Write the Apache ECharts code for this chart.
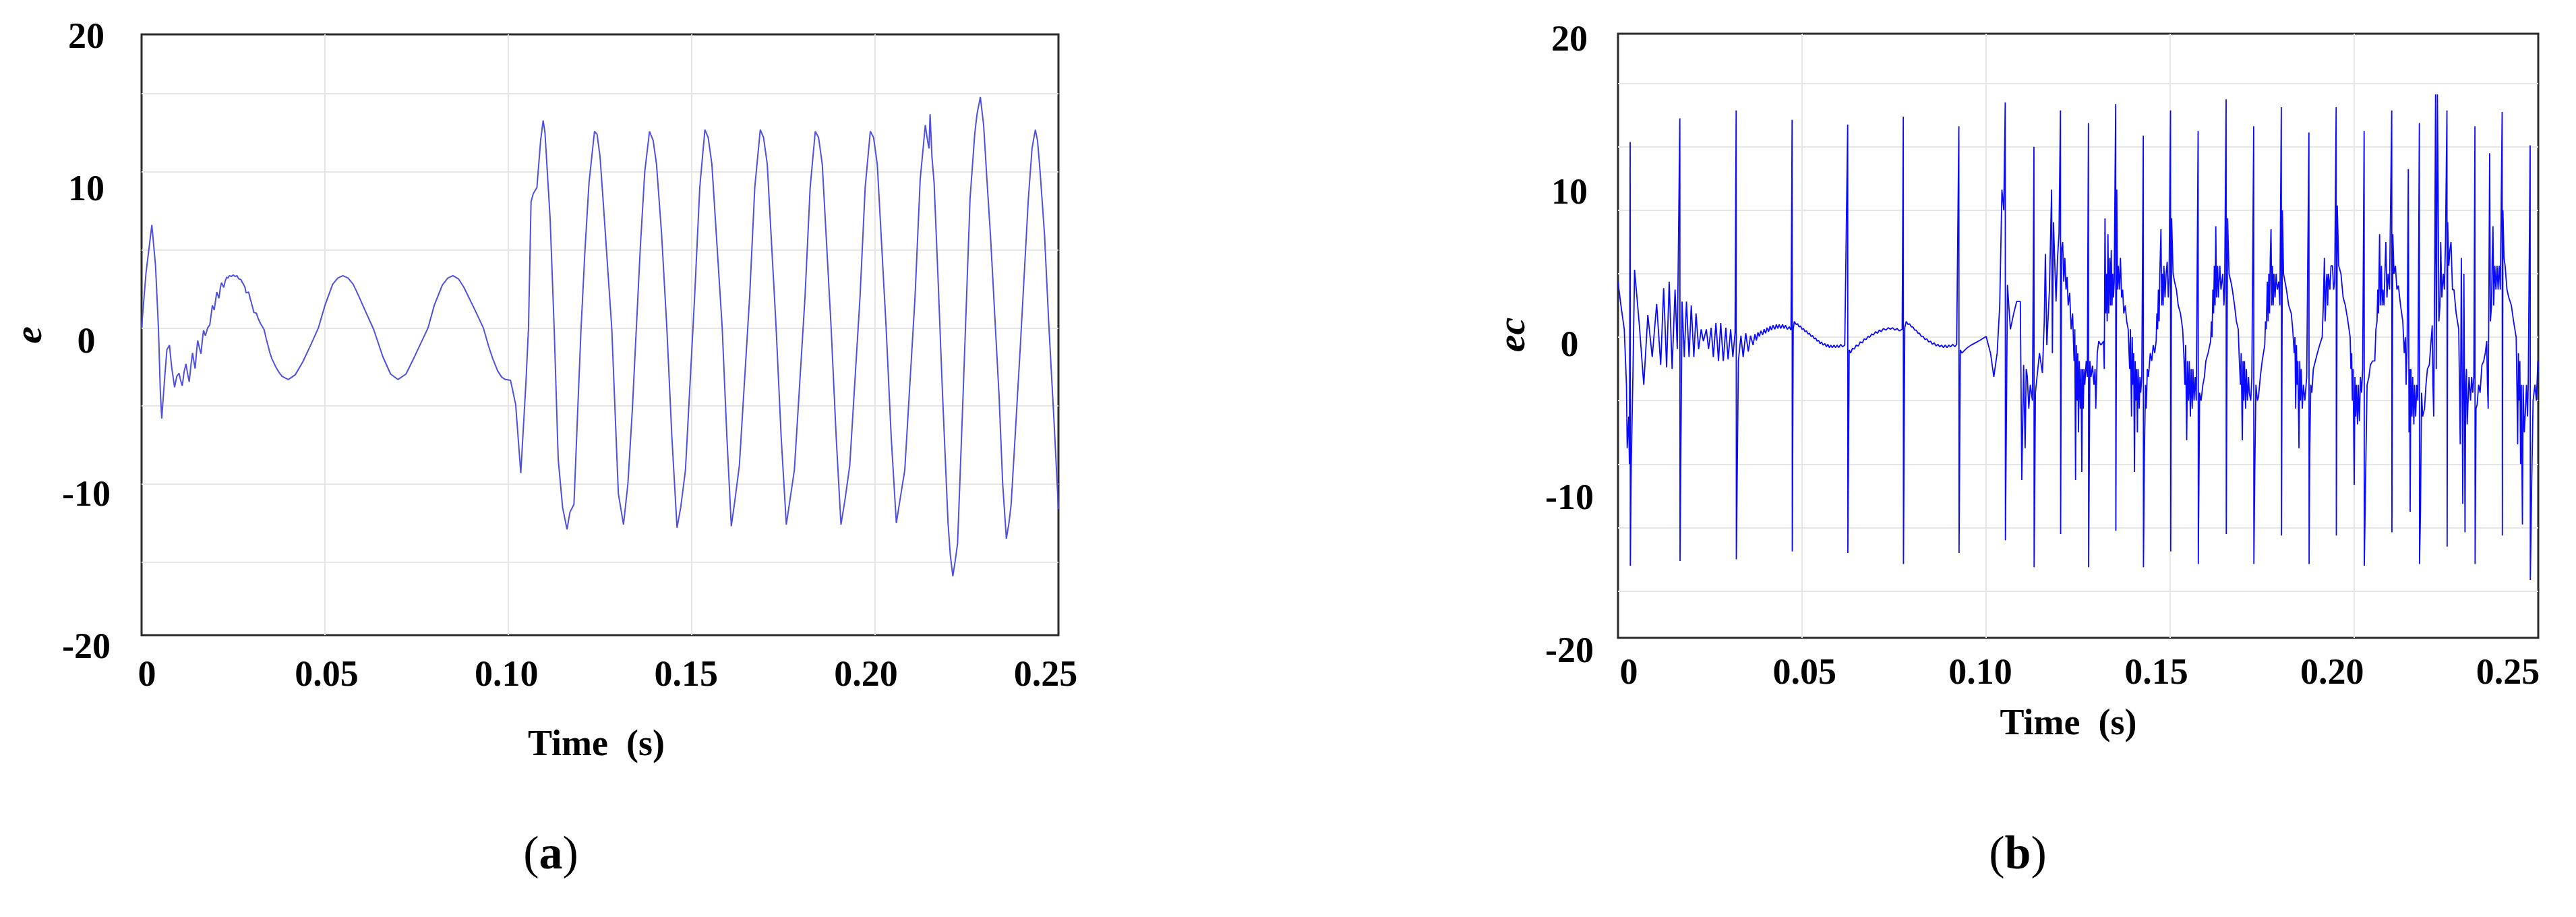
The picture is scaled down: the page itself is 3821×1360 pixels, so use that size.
<!DOCTYPE html>
<html>
<head>
<meta charset="utf-8">
<title>e / ec</title>
<script src="https://cdn.jsdelivr.net/npm/echarts@6/dist/echarts.min.js"></script>
<style>
  html, body { margin: 0; padding: 0; background: #fff; }
  #chart { width: 3821px; height: 1360px; }
</style>
</head>
<body>
<div id="chart"></div>
<script>
// tick labels
const timeTicks = ['0', '0.05', '0.10', '0.15', '0.20', '0.25']
const eGridValues = [-15, -10, -5, 0, 5, 10, 15]
const ecGridValues = [-16, -12, -8, -4, 0, 4, 8, 12, 16]

// (a) e : [time, value]
const eData = [
  [0, 0], [0.0012, 3.5], [0.0028, 6.6], [0.0038, 4.0], [0.0046, 0], [0.0051, -4.0], [0.0055, -5.8],
  [0.0062, -3.5], [0.0069, -1.4], [0.0076, -1.1], [0.0082, -2.5], [0.009, -3.8], [0.0096, -3.1],
  [0.0102, -2.9], [0.0107, -3.4], [0.0111, -3.7], [0.0116, -2.8], [0.0121, -2.3], [0.0126, -3.0],
  [0.013, -3.45], [0.0135, -2.3], [0.0139, -1.6], [0.0143, -2.2], [0.0146, -2.6], [0.015, -1.5],
  [0.0153, -0.8], [0.0158, -1.3], [0.0162, -1.65], [0.0166, -0.7], [0.0169, -0.15], [0.0174, -0.5],
  [0.018, 0.0], [0.0186, 0.2], [0.019, 0.9], [0.0193, 1.45], [0.0198, 1.15], [0.0202, 1.8],
  [0.0205, 2.3], [0.0211, 1.9], [0.0215, 2.6], [0.0218, 2.9], [0.0224, 2.6], [0.0228, 3.0],
  [0.0232, 3.25], [0.0236, 3.2], [0.0239, 3.35], [0.0245, 3.3], [0.025, 3.4], [0.0255, 3.3],
  [0.026, 3.35], [0.0265, 3.15], [0.0271, 3.1], [0.0275, 2.9], [0.0278, 2.8], [0.0282, 2.6],
  [0.0285, 2.25], [0.0292, 2.3], [0.0296, 1.9], [0.0299, 1.65], [0.0303, 1.3], [0.0306, 1.0],
  [0.0313, 0.95], [0.0318, 0.6], [0.0324, 0.3], [0.0334, -0.1], [0.034, -0.7], [0.0345, -1.15],
  [0.035, -1.6], [0.0355, -1.95], [0.036, -2.2], [0.0366, -2.5], [0.0375, -2.85], [0.0383, -3.1],
  [0.04, -3.3], [0.0419, -3.0], [0.044, -2.15], [0.0461, -1.1], [0.0482, 0], [0.05, 1.45],
  [0.0521, 2.8], [0.0535, 3.2], [0.0549, 3.35], [0.0563, 3.2], [0.0577, 2.8], [0.0593, 2.0],
  [0.0609, 1.15], [0.0633, -0.1], [0.0658, -1.85], [0.0679, -2.95], [0.0699, -3.3], [0.0721, -2.95],
  [0.0746, -1.75], [0.0781, 0], [0.0798, 1.45], [0.082, 2.75], [0.0835, 3.2], [0.0849, 3.35],
  [0.0864, 3.15], [0.0879, 2.6], [0.0908, 1.2], [0.0932, 0], [0.0946, -1.15], [0.0958, -2.0],
  [0.0971, -2.75], [0.0982, -3.15], [0.0992, -3.3], [0.1006, -3.35], [0.102, -4.9], [0.1034, -9.3],
  [0.1048, -3.5], [0.1055, 0], [0.1062, 8.1], [0.1068, 8.6], [0.1078, 9.0], [0.1088, 12.0],
  [0.1095, 13.3], [0.11, 12.5], [0.1114, 7.0], [0.1125, 0], [0.1136, -8.4], [0.1148, -11.5],
  [0.116, -12.9], [0.1168, -11.8], [0.1179, -11.3], [0.1188, -6.0], [0.1198, -0.2], [0.1209, 5.0],
  [0.122, 9.3], [0.1235, 12.6], [0.1242, 12.4], [0.125, 11.0], [0.1259, 8.0], [0.1282, 0],
  [0.13, -10.6], [0.1314, -12.6], [0.1326, -10.0], [0.1338, -5.3], [0.136, 5.2], [0.1372, 10.0],
  [0.1385, 12.6], [0.1395, 12.0], [0.1404, 10.5], [0.1418, 6.0], [0.1432, 0.1], [0.1446, -7.0],
  [0.146, -12.8], [0.147, -11.5], [0.1483, -9.1], [0.1508, 2.0], [0.1522, 9.0], [0.1536, 12.7],
  [0.1545, 12.2], [0.1555, 10.5], [0.1583, 0.1], [0.1596, -7.0], [0.1608, -12.7], [0.1618, -11.0],
  [0.163, -8.8], [0.1658, 2.0], [0.1672, 9.0], [0.1687, 12.7], [0.1696, 12.2], [0.1706, 10.5],
  [0.173, 0.1], [0.1744, -7.0], [0.1758, -12.6], [0.1768, -11.0], [0.178, -9.1], [0.1809, 2.0],
  [0.1823, 9.0], [0.1837, 12.6], [0.1846, 12.2], [0.1856, 10.5], [0.188, 0.1], [0.1894, -7.0],
  [0.1907, -12.6], [0.1918, -11.0], [0.1931, -8.8], [0.1959, 2.0], [0.1973, 9.0], [0.1987, 12.6],
  [0.1996, 12.2], [0.2006, 10.5], [0.203, 0.1], [0.2044, -7.0], [0.2058, -12.5], [0.2068, -11.0],
  [0.2081, -9.1], [0.2109, 2.0], [0.2123, 9.5], [0.2137, 13.0], [0.2143, 12.0], [0.2147, 11.5],
  [0.215, 13.7], [0.2155, 11.0], [0.2161, 9.3], [0.2172, 3.0], [0.2184, -4.3], [0.2199, -12.5],
  [0.2205, -14.5], [0.2212, -15.9], [0.2218, -15.0], [0.2225, -13.8], [0.224, -4.3], [0.2259, 8.3],
  [0.2272, 12.5], [0.2278, 13.7], [0.2287, 14.8], [0.2296, 13.0], [0.2305, 9.5], [0.2315, 5.8],
  [0.2338, -4.3], [0.2348, -10.0], [0.2358, -13.5], [0.2365, -12.5], [0.2371, -11.3], [0.2383, -6.5],
  [0.2396, -1.2], [0.2418, 8.3], [0.2428, 11.5], [0.2437, 12.7], [0.2443, 12.0], [0.245, 10.0],
  [0.2462, 6.0], [0.2474, 0.1], [0.2488, -6.0], [0.25, -11.6]
]

// (b) ec : [time, value]
const ecData = [
  [0, 3.5], [0.0008, 2.0], [0.0017, 0.5], [0.0023, -3.0], [0.0025, -7.0], [0.0029, -5.0], [0.0031, -8.0],
  [0.0033, 12.3], [0.00335, -14.4], [0.0036, -8.0], [0.0041, -1.75], [0.0045, 4.25], [0.0058, 0.75],
  [0.007, -3.0], [0.0081, 1.4], [0.0093, -1.25], [0.0105, 2.1], [0.0116, -1.75], [0.0124, 3.1],
  [0.0132, -1.9], [0.0139, 3.5], [0.0147, -2.0], [0.0155, 3.0], [0.0161, -0.75],
  [0.0168, 13.8], [0.01685, -14.1], [0.0174, 2.25], [0.018, -1.25], [0.0186, 2.25], [0.0193, -1.25],
  [0.0199, 2.0], [0.0206, -1.25], [0.0212, 1.5], [0.0219, -0.75], [0.0226, 0.5], [0.0232, -0.25],
  [0.024, 0.5], [0.0246, -0.75], [0.0253, 0.6], [0.0259, -1.25], [0.0266, 0.9], [0.0273, -1.5],
  [0.0279, 0.9], [0.0286, -1.5], [0.0293, 0.6], [0.0299, -1.4], [0.0306, 0.5], [0.0312, -1.25],
  [0.0318, 0.3], [0.0321, 14.3], [0.03215, -14.0], [0.0327, -1.5], [0.0334, 0.1], [0.034, -1.25],
  [0.0347, 0.25], [0.0354, -0.9], [0.036, 0.1], [0.0367, -0.5], [0.0372, 0.2], [0.0376, -0.2],
  [0.038, 0.3], [0.0384, 0.05], [0.0388, 0.4], [0.0393, 0.15], [0.0397, 0.5], [0.0401, 0.25],
  [0.0405, 0.6], [0.0409, 0.35], [0.0413, 0.7], [0.0417, 0.45], [0.0421, 0.75], [0.0426, 0.5],
  [0.043, 0.8], [0.0434, 0.55], [0.0438, 0.8], [0.0442, 0.55], [0.0447, 0.8], [0.0451, 0.55],
  [0.0455, 0.75], [0.046, 0.5], [0.0465, 0.65], [0.047, 0.45],
  [0.0473, 13.7], [0.04735, -13.5], [0.0476, 0.5], [0.0479, 1.0], [0.0484, 0.8], [0.0488, 0.85],
  [0.0492, 0.65], [0.0496, 0.7], [0.05, 0.5], [0.0504, 0.55], [0.0508, 0.35], [0.0512, 0.4],
  [0.0516, 0.2], [0.052, 0.25], [0.0525, 0.05], [0.0529, 0.1], [0.0533, -0.1], [0.0537, -0.05],
  [0.0541, -0.25], [0.0545, -0.2], [0.0549, -0.4], [0.0553, -0.3], [0.0557, -0.5], [0.0562, -0.4],
  [0.0566, -0.6], [0.057, -0.45], [0.0574, -0.65], [0.0578, -0.5], [0.0582, -0.65], [0.0587, -0.5],
  [0.0591, -0.65], [0.0595, -0.5], [0.06, -0.65], [0.0605, -0.45], [0.061, -0.6], [0.0616, -0.5],
  [0.0624, 13.4], [0.06245, -13.6], [0.0628, -0.8], [0.0632, -1.0], [0.0637, -0.7], [0.0642, -0.75],
  [0.0647, -0.5], [0.0653, -0.55], [0.0658, -0.3], [0.0664, -0.35], [0.0669, -0.1], [0.0674, -0.15],
  [0.0679, 0.05], [0.0684, 0.0], [0.0689, 0.2], [0.0694, 0.15], [0.07, 0.35], [0.0705, 0.25],
  [0.071, 0.45], [0.0715, 0.35], [0.0721, 0.55], [0.0728, 0.45], [0.0734, 0.6], [0.074, 0.5],
  [0.0746, 0.6], [0.0752, 0.45], [0.0758, 0.55], [0.0764, 0.4], [0.0772, 0.5],
  [0.0775, 13.9], [0.07755, -14.3], [0.0779, 0.6], [0.0783, 1.0], [0.0788, 0.8], [0.0792, 0.85],
  [0.0797, 0.65], [0.0801, 0.65], [0.0806, 0.45], [0.081, 0.45], [0.0815, 0.25], [0.0819, 0.25],
  [0.0824, 0.05], [0.0829, 0.05], [0.0834, -0.15], [0.0839, -0.1], [0.0844, -0.3], [0.0849, -0.25],
  [0.0854, -0.45], [0.0859, -0.35], [0.0864, -0.55], [0.0869, -0.45], [0.0874, -0.6], [0.0879, -0.5],
  [0.0884, -0.65], [0.0889, -0.5], [0.0894, -0.65], [0.0899, -0.5], [0.0904, -0.6], [0.0909, -0.45],
  [0.0915, -0.6], [0.092, -0.45],
  [0.0926, 13.3], [0.09265, -13.6], [0.093, -0.8], [0.0934, -1.0], [0.0947, -0.7], [0.0959, -0.5],
  [0.0971, -0.35], [0.0983, -0.2], [0.1, 0.05], [0.1012, -1.0], [0.1021, -2.5], [0.103, -1.0],
  [0.1037, 2.0], [0.1043, 9.3], [0.1048, 8.0], [0.1052, 14.8], [0.10525, -12.8], [0.1058, 3.3],
  [0.1066, 0.5], [0.1075, 1.5], [0.1083, 2.25], [0.1093, 2.25], [0.1097, -9.0], [0.1102, -1.75],
  [0.1106, -7.0], [0.1109, -2.0], [0.1112, -2.5], [0.1116, -4.5], [0.112, -3.0], [0.1126, -4.0],
  [0.113, 12.0], [0.11305, -14.5], [0.1134, -3.5], [0.1145, -1.0], [0.1153, -2.25], [0.1158, 1.0],
  [0.1161, 5.25], [0.1165, -0.5], [0.1172, 3.0], [0.1178, 9.3], [0.118, -1.0], [0.1183, 7.25],
  [0.119, 2.25], [0.1194, 5.0], [0.1198, 6.5], [0.1202, 14.3], [0.12025, -12.4],
  [0.1205, 5.5], [0.1208, 6.0], [0.1211, 3.5], [0.1214, 5.0], [0.1217, 3.0], [0.122, 3.8],
  [0.1223, 2.0], [0.1227, 2.8], [0.1231, 0.5], [0.1235, 1.5], [0.1239, -1.5], [0.1241, 0.5],
  [0.1243, -9.0], [0.1245, -0.5], [0.1247, -4.0], [0.1249, -1.0], [0.1251, -6.0], [0.1253, -1.5],
  [0.1256, -4.5], [0.1258, -2.0], [0.126, -8.5], [0.1262, -2.0], [0.1264, -4.5], [0.1266, -2.0],
  [0.1268, -3.0], [0.1272, -1.5], [0.1275, -2.5],
  [0.1278, 13.5], [0.12785, -14.5], [0.1282, -1.5], [0.1285, -2.5], [0.1289, -1.8], [0.1293, -3.0],
  [0.1296, -2.0], [0.1298, -4.5], [0.1302, -1.0], [0.1306, -0.25], [0.1312, -0.5], [0.1319, -0.25],
  [0.1321, -2.0], [0.1323, 7.5], [0.1325, 1.5], [0.1327, 4.0], [0.1329, 1.0], [0.1331, 6.5],
  [0.1333, 1.5], [0.1336, 5.0], [0.1338, 2.0], [0.134, 5.5], [0.1342, 2.0], [0.1344, 4.0],
  [0.1346, 2.5], [0.1348, 3.5],
  [0.1352, 14.7], [0.13525, -12.2], [0.1355, 9.3], [0.1357, 3.0], [0.1359, 4.5], [0.1362, 3.0],
  [0.1365, 5.0], [0.1368, 2.5], [0.1371, 3.0], [0.1374, 1.5], [0.1378, 2.0], [0.1382, 1.0],
  [0.1386, 0.5], [0.139, -2.0], [0.1392, 0.5], [0.1395, -5.0], [0.1397, 0.0], [0.1399, -3.0],
  [0.1401, -1.0], [0.1403, -8.5], [0.1405, -1.5], [0.1407, -4.0], [0.1409, -2.0], [0.1411, -6.0],
  [0.1413, -2.0], [0.1416, -4.5], [0.1418, -2.5], [0.142, -3.5], [0.1423, -2.5],
  [0.1427, 12.7], [0.14275, -14.5], [0.143, -7.5], [0.1433, -3.0], [0.1435, -4.5], [0.1438, -2.0],
  [0.1441, -2.5], [0.1446, -1.0], [0.145, -1.5], [0.1454, -0.5], [0.1458, -1.0], [0.1462, -0.25],
  [0.1464, 1.5], [0.1466, 0.5], [0.1468, 3.0], [0.147, 1.0], [0.1472, 4.0], [0.1475, 6.8],
  [0.1477, 2.0], [0.1479, 4.0], [0.1481, 2.0], [0.1483, 4.5], [0.1486, 2.5], [0.1489, 4.0],
  [0.1492, 4.75], [0.1495, 2.5], [0.1497, 3.5],
  [0.1501, 14.3], [0.15015, -13.5], [0.1504, 7.5], [0.1508, 4.0], [0.1512, 3.5], [0.1517, 3.0],
  [0.1522, 2.0], [0.1528, 1.5], [0.1534, 0.5], [0.1537, -1.0], [0.154, -3.0], [0.1542, -0.5],
  [0.1545, -6.5], [0.1547, -1.5], [0.155, -4.0], [0.1552, -1.5], [0.1555, -5.0], [0.1557, -2.0],
  [0.156, -4.5], [0.1562, -2.0], [0.1565, -4.0], [0.1568, -2.5], [0.1571, -4.0],
  [0.1576, 13.0], [0.15765, -14.3], [0.158, -3.5], [0.1584, -4.0], [0.1589, -3.0], [0.1593, -2.5],
  [0.1597, -1.5], [0.1603, -1.0], [0.161, -0.25], [0.1612, 1.0], [0.1614, 0.0], [0.1616, 3.0],
  [0.1618, 1.5], [0.162, 4.5], [0.1622, 2.0], [0.1624, 7.0], [0.1626, 2.5], [0.1629, 4.5],
  [0.1631, 2.5], [0.1635, 4.5], [0.1638, 3.0], [0.1643, 4.0], [0.1646, 2.0], [0.1648, 3.0],
  [0.1652, 15.0], [0.16525, -12.4], [0.1656, 7.5], [0.166, 4.0], [0.1665, 3.5], [0.1669, 3.0],
  [0.1675, 2.0], [0.168, 1.0], [0.1685, 0.5], [0.1688, -1.5], [0.1691, -3.0], [0.1693, -1.0],
  [0.1696, -6.5], [0.1698, -1.5], [0.17, -4.0], [0.1702, -1.5], [0.1705, -4.5], [0.1707, -2.0],
  [0.171, -4.0], [0.1713, -2.5], [0.1715, -3.5], [0.1719, -4.0], [0.1722, -2.5],
  [0.1727, 13.3], [0.17275, -14.3], [0.173, -8.3], [0.1733, -3.0], [0.1737, -4.0], [0.174, -3.75],
  [0.1745, -2.5], [0.175, -1.5], [0.1757, -0.5], [0.1759, 1.0], [0.1761, 0.5], [0.1764, 3.5],
  [0.1766, 1.0], [0.1768, 4.0], [0.177, 1.5], [0.1772, 5.0], [0.1774, 6.8], [0.1776, 2.0],
  [0.1778, 4.5], [0.178, 2.0], [0.1782, 4.0], [0.1785, 2.5], [0.1788, 4.0], [0.1791, 3.0],
  [0.1795, 3.5], [0.1798, 2.0],
  [0.1802, 14.5], [0.18025, -12.5], [0.1805, 8.0], [0.1808, 4.0], [0.1812, 3.5], [0.1816, 3.0],
  [0.1822, 2.0], [0.1829, 1.5], [0.1833, 0.5], [0.1837, -1.0], [0.1839, 0.0], [0.1841, -4.5],
  [0.1843, -0.5], [0.1845, -3.0], [0.1847, -1.5], [0.185, -7.0], [0.1852, -1.5], [0.1854, -4.0],
  [0.1856, -2.0], [0.1859, -4.5], [0.1862, -3.0], [0.1866, -4.0], [0.1871, -2.5],
  [0.1877, 12.9], [0.18775, -14.3], [0.1879, -7.5], [0.1882, -3.0], [0.1885, -3.5], [0.1889, -2.0],
  [0.1892, -2.0], [0.19, -1.0], [0.1906, -0.5], [0.1913, 0], [0.1916, 2.0], [0.1919, 5.0],
  [0.1921, 1.0], [0.1922, 1.5], [0.1924, 3.5], [0.1926, 4.0], [0.1928, 2.0], [0.193, 4.0],
  [0.1934, 3.0], [0.1937, 4.5], [0.1941, 4.5], [0.1944, 3.0], [0.1947, 3.5],
  [0.1951, 14.5], [0.19515, -12.5], [0.1954, 8.3], [0.1958, 4.5], [0.1964, 4.0], [0.197, 2.5],
  [0.1976, 2.0], [0.1983, 1.0], [0.1989, 0], [0.1991, -2.0], [0.1993, -1.0], [0.1995, -4.0],
  [0.1997, -2.0], [0.2, -9.3], [0.2002, -2.5], [0.2004, -5.0], [0.2006, -3.0], [0.2009, -5.5],
  [0.2011, -3.0], [0.2014, -5.3], [0.2017, -2.5], [0.202, -3.5], [0.2023, -2.0],
  [0.2027, 13.0], [0.20275, -14.4], [0.2031, -8.8], [0.2035, -3.0], [0.204, -2.5], [0.2044, -1.75],
  [0.205, -1.5], [0.2056, -1.5], [0.2059, 0.5], [0.2062, 1.0], [0.2064, 3.0], [0.2066, 1.5],
  [0.2069, 6.5], [0.2071, 2.0], [0.2074, 4.5], [0.2076, 2.0], [0.2078, 3.0], [0.2081, 2.0],
  [0.2084, 4.5], [0.2086, 6.0], [0.2089, 2.5], [0.2092, 4.0], [0.2096, 3.0],
  [0.2102, 14.3], [0.21025, -12.3], [0.2105, 6.5], [0.2108, 4.0], [0.2112, 4.5], [0.2116, 3.0],
  [0.212, 3.25], [0.2126, 2.0], [0.2132, 1.0], [0.2136, -1.0], [0.2139, 0.0], [0.2141, -3.0],
  [0.2144, 0.0], [0.2147, 10.6], [0.2149, -6.0], [0.2151, -2.0], [0.2152, -11.0], [0.2154, -2.0],
  [0.2157, -5.0], [0.2159, -2.5], [0.2162, -5.5], [0.2164, -3.0], [0.2167, -5.0], [0.217, -3.0],
  [0.2173, -4.0],
  [0.2177, 13.5], [0.21775, -14.3], [0.218, -11.0], [0.2183, -3.5], [0.2186, -5.0], [0.2191, -4.5],
  [0.2195, -3.0], [0.2199, -2.0], [0.2204, -1.75], [0.2208, -0.5], [0.2212, 0.75], [0.2214, -3.0],
  [0.2216, -5.0], [0.2218, 2.0], [0.2219, 5.5], [0.2221, 15.3], [0.2223, -2.0], [0.2226, 15.3],
  [0.2228, 9.3], [0.223, 1.0], [0.2233, 2.0], [0.2235, 6.0], [0.2238, 2.5], [0.2242, 4.0],
  [0.2245, 3.0], [0.2248, 6.0],
  [0.2252, 14.3], [0.22525, -13.2], [0.2254, 7.25], [0.2257, 4.5], [0.226, 5.5], [0.2263, 6.0],
  [0.2267, 3.0], [0.2271, 3.0], [0.2277, 1.5], [0.2284, 0.5], [0.2286, -3.0], [0.2288, -6.75],
  [0.229, 0.0], [0.2291, 5.0], [0.2293, -2.0], [0.2295, -10.5], [0.2297, -1.0], [0.2298, 4.0],
  [0.23, -5.0], [0.2301, -12.3], [0.2303, -3.0], [0.2305, -2.0], [0.2307, -5.5], [0.2309, -4.25],
  [0.2312, -2.5], [0.2316, -4.0], [0.2319, -2.5], [0.2322, -3.5], [0.2325, -2.5],
  [0.2328, 13.3], [0.23285, -14.3], [0.2331, -4.5], [0.2334, -4.25], [0.2338, -3.0], [0.2342, -3.5],
  [0.2347, -1.75], [0.2352, -1.5], [0.2356, -1.0], [0.236, -0.25], [0.2362, -3.0], [0.2364, -4.5],
  [0.2366, 3.0], [0.2368, 11.6], [0.237, 1.0], [0.2373, 2.0], [0.2375, 5.0], [0.2377, 7.0],
  [0.2379, 2.0], [0.2382, 4.5], [0.2385, 3.0], [0.2388, 4.5], [0.2391, 3.0], [0.2394, 4.5],
  [0.2397, 3.0],
  [0.2402, 14.2], [0.24025, -12.5], [0.2404, 8.0], [0.2407, 5.0], [0.241, 4.5], [0.2415, 3.0],
  [0.242, 2.5], [0.2427, 2.0], [0.2433, 1.0], [0.244, 0], [0.2442, -3.0], [0.2444, -6.75],
  [0.2446, -1.0], [0.2448, -4.0], [0.245, -1.5], [0.2452, -8.0], [0.2454, -3.0], [0.2457, -11.8],
  [0.2459, -3.0], [0.2462, -6.0], [0.2465, -4.75], [0.2468, -3.0], [0.2471, -5.0], [0.2473, -2.5],
  [0.2478, 12.1], [0.24785, -15.3], [0.2482, -9.5], [0.2486, -4.0], [0.2491, -3.0], [0.2495, -4.0],
  [0.2499, -1.5]
]

const serif = '"Liberation Serif", "Times New Roman", serif'
const gridColor = '#e6e6e6'

const chart = echarts.init(document.getElementById('chart'), null, { renderer: 'canvas' })

// data axes: plot area only, no labels
function dataXAxis(gridIndex) {
  return {
    type: 'value', gridIndex: gridIndex, min: 0, max: 0.25, interval: 0.05,
    axisLine: { show: false }, axisTick: { show: false }, axisLabel: { show: false },
    splitLine: { show: true, showMinLine: false, showMaxLine: false, lineStyle: { color: gridColor, width: 2 } }
  }
}
function dataYAxis(gridIndex, min, max) {
  return {
    type: 'value', gridIndex: gridIndex, min: min, max: max,
    axisLine: { show: false }, axisTick: { show: false }, axisLabel: { show: false },
    splitLine: { show: false }
  }
}
// label axes: tick labels and titles
function labelXAxis(gridIndex, margin, nameGap) {
  return {
    type: 'value', gridIndex: gridIndex, min: 0, max: 0.25, interval: 0.05,
    axisLine: { show: false }, axisTick: { show: false }, splitLine: { show: false },
    axisLabel: {
      margin: margin, color: '#000', fontFamily: serif, fontWeight: 'bold', fontSize: 54,
      formatter: function (v) { return timeTicks[Math.round(v / 0.05)] }
    },
    name: 'Time  (s)', nameLocation: 'middle', nameGap: nameGap,
    nameTextStyle: { color: '#000', fontFamily: serif, fontWeight: 'bold', fontSize: 54 }
  }
}
function labelYAxis(gridIndex, margin, name, nameGap, shift) {
  return {
    type: 'value', gridIndex: gridIndex, min: -20, max: 20, interval: 10,
    axisLine: { show: false }, axisTick: { show: false }, splitLine: { show: false },
    axisLabel: {
      margin: margin, align: 'center', color: '#000', fontFamily: serif, fontWeight: 'bold', fontSize: 54
    },
    name: name, nameLocation: 'middle', nameGap: nameGap,
    nameTextStyle: {
      color: '#000', fontFamily: serif, fontWeight: 'bold', fontStyle: 'italic', fontSize: 58,
      padding: [0, 0, 0, shift]
    }
  }
}
function gridLines(values) {
  return {
    silent: true, symbol: 'none', z: 1, animation: false,
    label: { show: false },
    lineStyle: { color: gridColor, width: 2, type: 'solid' },
    emphasis: { disabled: true },
    data: values.map(function (v) { return { yAxis: v } })
  }
}

const option = {
  backgroundColor: '#fff',
  animation: false,
  grid: [
    { left: 210, top: 51, width: 1360, height: 891, show: true, borderColor: '#2a2a2a', borderWidth: 3, backgroundColor: '#fff' },
    { left: 2400, top: 50, width: 1365, height: 896, show: true, borderColor: '#2a2a2a', borderWidth: 3, backgroundColor: '#fff' },
    { left: 218, top: 57, width: 1333, height: 905 },
    { left: 2416, top: 61, width: 1304, height: 907 }
  ],
  xAxis: [
    dataXAxis(0),
    dataXAxis(1),
    labelXAxis(2, 14, 117),
    labelXAxis(3, 5, 80)
  ],
  yAxis: [
    dataYAxis(0, -19.68, 18.81),
    dataYAxis(1, -18.95, 19.13),
    labelYAxis(2, 90, 'e', 143, 25),
    labelYAxis(3, 88, 'ec', 141, 36)
  ],
  graphic: [
    {
      type: 'text', x: 817, y: 1270,
      style: {
        text: '({b|a})', fill: '#000', fontFamily: serif, fontSize: 70,
        align: 'center', verticalAlign: 'middle',
        rich: { b: { fontFamily: serif, fontSize: 70, fontWeight: 'bold', fill: '#000' } }
      }
    },
    {
      type: 'text', x: 2993, y: 1270,
      style: {
        text: '({b|b})', fill: '#000', fontFamily: serif, fontSize: 70,
        align: 'center', verticalAlign: 'middle',
        rich: { b: { fontFamily: serif, fontSize: 70, fontWeight: 'bold', fill: '#000' } }
      }
    }
  ],
  series: [
    {
      name: 'e', type: 'line', xAxisIndex: 0, yAxisIndex: 0, z: 3,
      data: eData, showSymbol: false, symbol: 'none', smooth: false,
      lineStyle: { color: '#5050e0', width: 2 },
      markLine: gridLines(eGridValues)
    },
    {
      name: 'ec', type: 'line', xAxisIndex: 1, yAxisIndex: 1, z: 3,
      data: ecData, showSymbol: false, symbol: 'none', smooth: false,
      lineStyle: { color: '#0a0aff', width: 1.8 },
      markLine: gridLines(ecGridValues)
    }
  ]
}

chart.setOption(option)
</script>
</body>
</html>
